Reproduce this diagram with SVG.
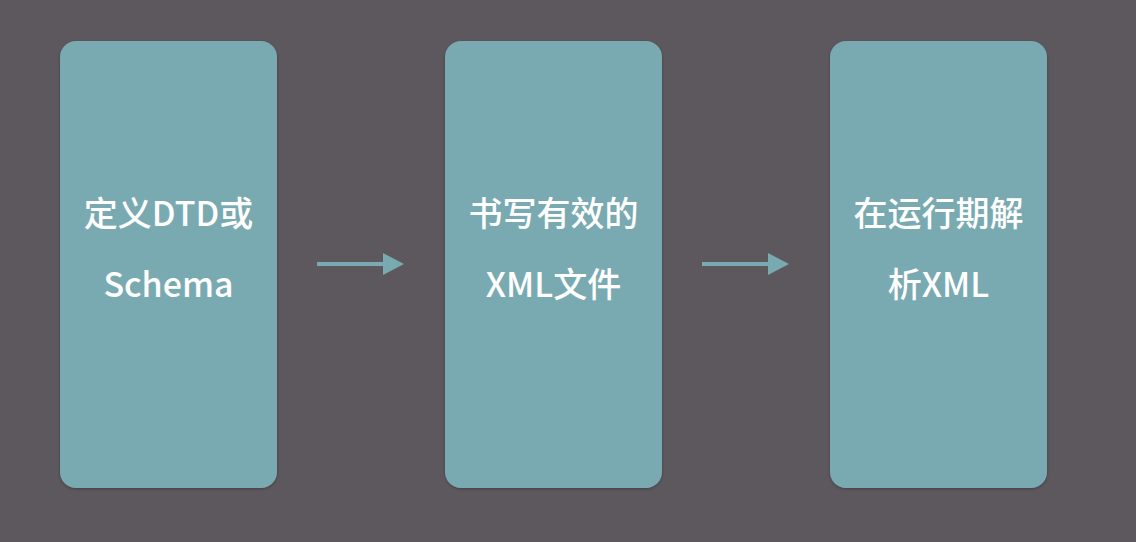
<svg xmlns="http://www.w3.org/2000/svg" width="1136" height="542" viewBox="0 0 1136 542">
<defs>
<style>
.box{fill:#7aaab1;}
.t{fill:#ffffff;font-family:"Noto Sans CJK SC","Noto Sans",sans-serif;font-size:34px;font-weight:500;text-anchor:middle;}
.conn{stroke:#7aaab1;stroke-width:4;fill:none;}
.head{fill:#7aaab1;}
</style>
<filter id="sh" x="-10%" y="-10%" width="120%" height="120%">
<feDropShadow dx="0" dy="1" stdDeviation="1.5" flood-color="#000" flood-opacity="0.3"/>
</filter>
</defs>
<rect width="1136" height="542" fill="#5d585e"/>
<g id="node1">
<rect class="box" x="60" y="41" width="217" height="447" rx="16" filter="url(#sh)"/>
<text class="t" x="168.5" y="226">定义DTD或</text>
<text class="t" x="168.5" y="297">Schema</text>
</g>
<g id="node2">
<rect class="box" x="445" y="41" width="217" height="447" rx="16" filter="url(#sh)"/>
<text class="t" x="553.5" y="226">书写有效的</text>
<text class="t" x="553.5" y="297">XML文件</text>
</g>
<g id="node3">
<rect class="box" x="830" y="41" width="217" height="447" rx="16" filter="url(#sh)"/>
<text class="t" x="938.5" y="226">在运行期解</text>
<text class="t" x="938.5" y="297">析XML</text>
</g>
<g id="connectors">
<line class="conn" x1="317" y1="264" x2="386" y2="264"/>
<polygon class="head" points="383,253 404,264 383,275"/>
<line class="conn" x1="702" y1="264" x2="771" y2="264"/>
<polygon class="head" points="768,253 789,264 768,275"/>
</g>
</svg>
